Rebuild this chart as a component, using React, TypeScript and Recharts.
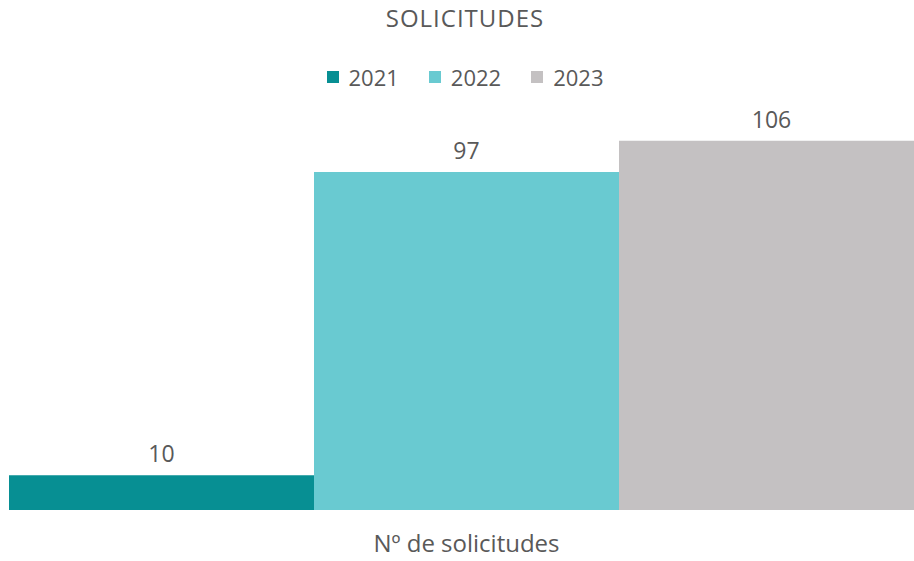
import React from "react";
import { BarChart, Bar, XAxis, YAxis, LabelList } from "recharts";

const categories = ["Nº de solicitudes"];
const years = ["2021", "2022", "2023"];
const values2021 = [10];
const values2022 = [97];
const values2023 = [106];

const COLORS = ["#078F93", "#69CAD1", "#C4C1C2"];
const TEXT = "#595959";
const FONT = "'Open Sans', Lato, sans-serif";

const data = categories.map((name, i) => ({
  name,
  "2021": values2021[i],
  "2022": values2022[i],
  "2023": values2023[i],
}));

export default function App() {
  return (
    <div
      style={{
        position: "absolute",
        left: 0,
        top: 0,
        width: 914,
        height: 561,
        background: "#fff",
        overflow: "hidden",
      }}
    >
      <div
        style={{
          position: "absolute",
          top: 1,
          left: 0,
          width: 930,
          textAlign: "center",
          color: TEXT,
          fontFamily: FONT,
          fontSize: 24,
          letterSpacing: 1,
        }}
      >
        SOLICITUDES
      </div>
      {/* legend */}
      <div
        style={{
          position: "absolute",
          top: 62,
          left: 0,
          width: 930,
          display: "flex",
          justifyContent: "center",
          gap: 30,
          fontFamily: FONT,
        }}
      >
        {years.map((y, i) => (
          <div key={y} style={{ display: "flex", alignItems: "center" }}>
            <span
              style={{
                display: "inline-block",
                width: 12,
                height: 12,
                background: COLORS[i],
                marginRight: 10,
              }}
            />
            <span style={{ color: TEXT, fontSize: 22 }}>{y}</span>
          </div>
        ))}
      </div>
      <BarChart
        width={924}
        height={561}
        data={data}
        margin={{ top: 92, right: 0, bottom: 0, left: 9 }}
        barCategoryGap={0}
        barGap={0}
        style={{ position: "absolute", left: 0, top: 0 }}
      >
        <XAxis
          dataKey="name"
          axisLine={false}
          tickLine={false}
          height={51}
          tick={{ fill: TEXT, fontSize: 24, fontFamily: FONT, dy: 17 }}
        />
        <YAxis hide domain={[0, 120]} />
        {years.map((y, i) => (
          <Bar key={y} dataKey={y} fill={COLORS[i]} isAnimationActive={false}>
            <LabelList
              dataKey={y}
              position="top"
              offset={13}
              style={{ fill: TEXT, fontSize: 23, fontFamily: FONT }}
            />
          </Bar>
        ))}
      </BarChart>
    </div>
  );
}
